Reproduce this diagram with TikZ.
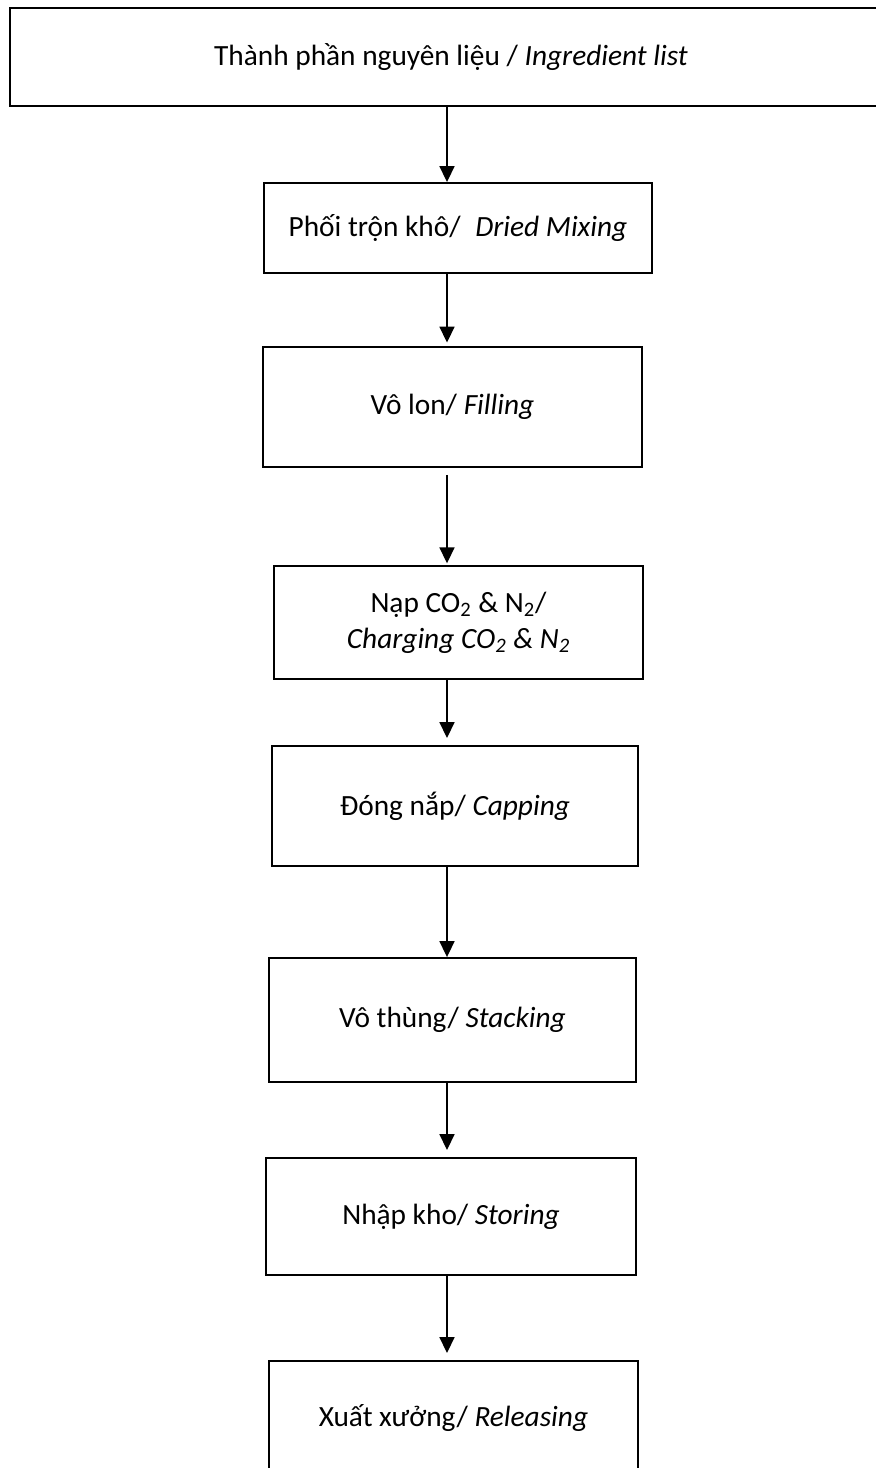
\documentclass[tikz,border=0pt]{standalone}
\usepackage{fontspec}
\setmainfont{Carlito}
\usetikzlibrary{arrows.meta}
\tikzset{
  stepbox/.style = {
    draw,
    line width=1.1pt,
    align=center,
    inner sep=0pt,
    font=\fontsize{16.7}{20.5}\selectfont
  },
  flow/.style = {
    -{Triangle[length=9pt,width=8.5pt]},
    line width=0.8pt
  }
}

\begin{document}
\begin{tikzpicture}[x=0.02cm,y=-0.02cm]
  \useasboundingbox (0,0) rectangle (876,1468);
  \pgfmathsetmacro{\ax}{447};
  % steps
  \node[stepbox,minimum width=17.64cm,minimum height=1.96cm] (ingr) at (451,57) {Thành phần nguyên liệu / \textit{Ingredient list}};
  \node[stepbox,minimum width=7.76cm,minimum height=1.8cm] (mix) at (458,228) {Phối trộn khô/\enspace\textit{Dried Mixing}};
  \node[stepbox,minimum width=7.58cm,minimum height=2.4cm] (fill) at (452.5,407) {Vô lon/ \textit{Filling}};
  \node[stepbox,minimum width=7.38cm,minimum height=2.26cm] (gas) at (458.5,622.5) {Nạp CO\textsubscript{2} \& N\textsubscript{2}/\\\textit{Charging CO\textsubscript{2} \& N\textsubscript{2}}};
  \node[stepbox,minimum width=7.32cm,minimum height=2.4cm] (cap) at (455,806) {Đóng nắp/ \textit{Capping}};
  \node[stepbox,minimum width=7.34cm,minimum height=2.48cm] (stack) at (452.5,1020) {Vô thùng/ \textit{Stacking}};
  \node[stepbox,minimum width=7.4cm,minimum height=2.34cm] (store) at (451,1216.5) {Nhập kho/ \textit{Storing}};
  \node[stepbox,minimum width=7.38cm,minimum height=2.28cm] (release) at (453.5,1418) {Xuất xưởng/ \textit{Releasing}};
  % arrows
  \coordinate (axis) at (\ax,0);
  \draw[flow] (ingr.south -| axis) -- (mix.north -| axis);
  \draw[flow,shorten >=2pt] (mix.south -| axis) -- (fill.north -| axis);
  \draw[flow,shorten <=4pt,shorten >=1pt] (fill.south -| axis) -- (gas.north -| axis);
  \draw[flow,shorten >=4pt] (gas.south -| axis) -- (cap.north -| axis);
  \draw[flow] (cap.south -| axis) -- (stack.north -| axis);
  \draw[flow,shorten >=4pt] (stack.south -| axis) -- (store.north -| axis);
  \draw[flow,shorten >=4pt] (store.south -| axis) -- (release.north -| axis);
\end{tikzpicture}
\end{document}
